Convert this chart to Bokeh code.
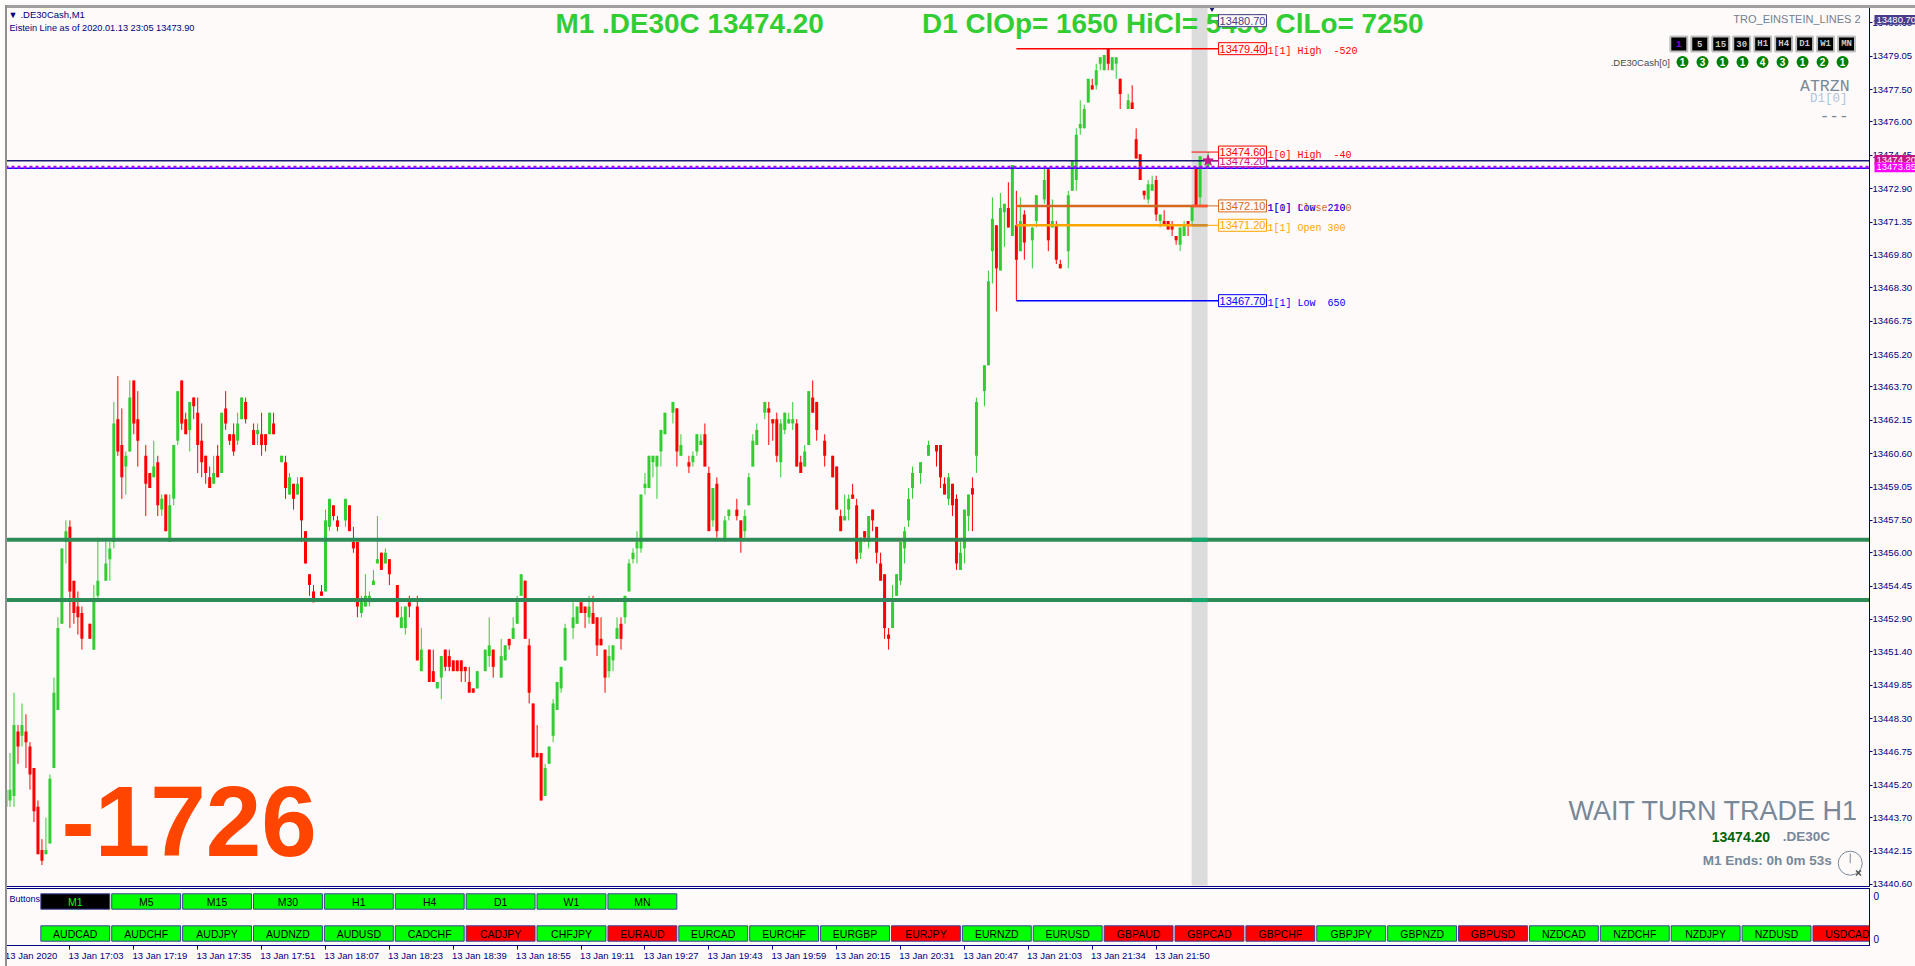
from bokeh.plotting import figure
from bokeh.layouts import column, row
from bokeh.models import Range1d, FixedTicker, NumeralTickFormatter, LinearAxis, Label, Div
from bokeh.core.properties import value
from bokeh.embed import file_html
from bokeh.resources import INLINE
import numpy as np

na = float("nan")
price_base = 13400.0  # every OHLC list below is an offset from this price

highs = [45.7,46.7,49.5,48.0,49.0,48.5,47.2,46.0,44.5,42.7,
43.7,45.7,50.2,53.0,56.2,57.5,57.5,54.7,54.2,53.5,
na,52.7,54.5,56.7,na,56.5,56.5,63.0,64.2,62.7,
60.7,64.0,64.0,63.5,na,61.0,59.7,61.2,60.5,58.7,
58.7,58.7,61.0,63.5,64.0,62.5,63.0,63.2,63.2,62.0,
60.5,60.0,60.5,61.0,62.5,63.5,61.5,62.0,62.5,63.2,
63.2,na,62.0,62.0,62.5,61.5,62.5,62.5,na,60.5,
60.5,59.7,59.2,59.5,59.5,57.0,55.0,54.5,na,54.5,
58.0,58.5,58.2,57.7,na,58.5,58.2,57.2,56.5,54.0,
55.0,54.2,55.2,57.7,56.0,56.2,55.7,na,54.5,53.5,
53.5,54.0,na,54.0,52.5,na,51.5,51.5,50.0,51.2,
51.5,51.5,51.0,51.0,51.0,50.7,50.7,49.7,50.5,na,
51.5,53.0,51.5,na,52.0,51.7,52.0,53.0,54.0,55.0,
54.7,52.0,49.0,48.0,46.7,46.2,47.0,49.2,50.0,50.7,
52.7,na,53.7,53.5,53.7,53.5,54.0,54.0,53.0,53.0,
51.5,51.7,51.7,53.0,53.0,54.0,55.7,56.2,57.0,58.7,
59.7,60.5,60.5,60.5,61.7,62.5,na,63.0,62.7,61.5,
na,60.5,60.7,61.5,61.5,62.0,60.0,59.0,59.5,na,
57.7,58.0,na,58.5,57.5,58.0,59.7,61.5,62.0,na,
63.0,63.0,62.2,62.5,62.2,62.5,62.5,63.0,62.2,60.5,
61.0,63.5,64.0,63.0,na,61.5,na,60.5,60.0,58.0,
58.7,58.7,59.2,58.5,56.7,57.0,57.7,58.0,57.2,56.0,
55.0,52.5,54.5,55.0,56.5,57.2,59.0,60.0,na,60.2,
na,61.2,na,61.0,61.0,59.5,59.7,59.2,58.7,56.5,
58.0,58.7,59.5,63.2,na,64.7,69.1,72.5,71.2,72.7,
72.2,73.2,74.0,72.8,72.5,71.9,na,71.1,72.6,na,
73.9,73.8,72.4,71.4,69.6,na,72.8,74.2,75.7,77.0,
76.8,78.0,78.0,78.7,79.0,79.1,79.4,79.0,79.0,78.0,
na,77.3,77.7,75.7,74.5,72.8,73.3,73.5,73.5,71.7,
71.9,71.4,71.4,70.7,71.1,71.4,71.4,72.1,73.9,74.4,na,74.6]

lows = [43.5,44.2,44.2,46.2,47.0,46.0,45.0,43.5,42.0,41.5,
42.0,42.5,46.0,48.7,52.7,55.5,52.5,52.7,52.2,51.5,
na,52.0,51.5,53.7,na,54.7,54.7,56.2,60.5,58.5,
58.7,60.7,61.5,60.0,na,57.7,59.0,59.5,57.7,57.7,
57.0,56.5,58.2,61.0,61.7,61.5,60.7,62.2,59.7,59.5,
59.2,59.0,59.2,59.5,59.7,61.7,61.0,60.5,61.0,62.2,
62.0,na,61.0,61.0,60.5,60.7,61.5,61.5,na,60.2,
58.5,58.7,58.0,58.7,56.5,55.5,54.0,53.7,na,54.0,
54.2,57.0,57.5,57.0,na,57.2,57.0,56.0,53.0,53.0,
53.5,53.5,54.5,55.5,55.2,55.5,54.5,na,53.0,52.5,
52.2,53.0,na,51.0,50.5,na,50.0,50.0,49.7,49.2,
50.5,50.5,50.5,50.5,50.0,50.0,49.5,49.5,49.7,na,
50.5,50.7,50.2,na,50.2,51.0,51.5,52.0,52.7,54.0,
52.0,49.0,46.5,46.5,44.5,44.7,46.2,47.2,48.7,49.5,
51.0,na,52.0,52.7,53.2,52.5,52.7,52.7,51.2,51.7,
49.5,50.2,50.5,52.0,51.5,52.7,54.2,55.5,55.5,56.0,
58.7,59.0,59.5,58.5,60.0,61.5,na,62.0,60.0,60.5,
na,59.7,60.0,60.5,61.0,60.0,57.0,57.2,56.7,na,
56.5,57.5,na,57.5,56.0,56.7,58.2,60.0,61.0,na,
62.2,61.0,61.2,60.2,59.5,61.5,62.0,61.7,60.0,59.7,
60.0,61.0,62.5,61.2,na,60.0,na,59.5,58.0,57.0,
57.5,57.5,58.5,55.5,55.7,56.5,56.2,57.0,55.5,54.7,
52.0,51.5,52.5,54.0,54.5,55.5,57.2,58.5,na,59.2,
na,60.5,na,60.0,59.0,58.7,58.2,57.7,55.2,55.2,
55.5,57.0,57.0,59.7,na,62.8,64.7,68.5,67.2,69.1,
70.2,71.1,70.7,67.7,70.0,69.6,na,69.2,71.1,na,
72.2,70.0,71.1,69.4,69.2,na,69.2,72.8,72.8,75.4,
75.7,76.9,77.5,77.5,78.4,78.4,78.4,78.4,78.0,76.6,
na,76.6,76.6,74.3,73.3,72.4,72.2,72.8,71.4,71.1,
71.2,71.0,70.7,70.3,70.0,70.7,70.7,71.2,72.1,72.1,na,73.9]

opens = [44.2,44.5,44.7,47.7,47.5,47.7,47.0,46.0,44.2,42.2,
42.0,42.5,46.0,48.7,52.7,56.5,57.2,54.7,53.5,53.2,
na,52.7,51.5,54.0,na,54.7,55.7,56.5,62.2,61.0,
60.0,60.7,64.0,62.2,na,60.5,59.7,59.5,60.2,58.0,
58.7,56.5,58.5,61.2,64.0,62.2,61.7,63.2,62.5,61.2,
60.5,59.5,59.2,60.5,59.7,62.7,61.5,61.5,61.2,62.2,
63.0,na,61.7,61.5,61.5,61.5,61.5,62.0,na,60.2,
60.2,58.7,59.2,58.7,59.5,57.0,55.0,54.2,na,54.2,
54.2,57.2,58.2,57.5,na,57.5,58.2,56.5,56.5,53.2,
53.5,53.7,54.5,55.5,56.0,55.5,55.7,na,54.5,52.5,
52.5,53.7,na,53.5,50.5,na,51.5,50.5,49.7,50.2,
51.5,51.2,51.0,51.0,51.0,50.7,50.0,49.7,49.7,na,
50.5,51.2,51.5,na,50.2,51.0,52.0,52.0,52.7,54.0,
54.7,51.7,49.0,46.7,46.7,44.7,46.2,47.5,48.7,49.7,
51.0,na,52.5,52.7,53.7,53.5,53.0,53.2,53.0,52.0,
51.5,50.5,51.0,52.0,52.7,53.0,54.2,55.7,56.2,56.2,
59.0,59.0,60.2,60.0,60.7,61.5,na,62.5,62.7,60.5,
na,60.2,60.2,60.7,61.0,61.5,59.7,57.5,59.2,na,
56.6,57.7,na,58.0,57.5,57.0,58.2,60.0,61.0,na,
62.5,62.7,62.2,62.2,60.2,61.7,62.0,62.0,62.0,60.2,
60.0,61.0,63.2,63.0,na,61.2,na,60.5,60.0,57.7,
57.5,58.0,58.7,58.2,56.0,57.0,56.5,58.0,57.2,55.5,
55.0,52.2,52.5,54.0,54.7,56.2,57.5,59.0,na,59.7,
na,60.5,na,61.0,61.0,59.2,58.5,59.2,58.5,55.2,
56.2,57.7,59.0,60.5,na,63.5,64.7,70.0,71.2,69.1,
71.8,72.0,70.7,71.2,70.0,71.7,na,70.5,71.4,na,
72.4,73.8,71.1,71.2,69.4,na,70.0,72.8,73.3,75.7,
75.7,76.9,77.7,77.7,78.7,78.4,79.4,78.4,78.7,78.0,
na,76.6,76.9,75.2,74.5,72.8,72.4,72.8,73.3,71.4,
71.4,71.4,71.2,70.7,70.3,70.7,71.4,71.4,73.9,72.5,na,73.9]

closes = [45.0,45.0,48.0,47.0,48.0,47.2,45.7,44.0,42.0,41.7,
42.2,45.5,49.5,52.5,56.2,57.0,54.2,53.2,53.0,52.0,
na,52.0,53.8,54.7,na,55.5,56.2,62.0,60.7,59.5,
60.5,63.2,62.0,61.2,na,59.2,59.0,60.0,58.2,58.5,
57.0,58.2,61.0,63.5,62.0,61.5,63.0,62.8,61.0,60.2,
59.7,59.0,59.7,59.5,62.5,62.0,61.2,60.7,62.0,63.2,
62.2,na,61.0,61.7,61.0,61.0,62.5,61.5,na,60.5,
59.0,59.5,58.5,59.2,57.5,55.5,54.5,53.7,na,54.0,
57.5,58.5,57.7,57.2,na,58.5,57.0,56.2,53.5,53.9,
54.0,54.0,54.7,55.7,55.2,56.0,55.0,na,53.0,53.0,
53.5,53.5,na,51.0,51.5,na,50.0,50.0,50.0,51.2,
50.7,50.7,50.5,50.5,50.5,50.5,49.5,49.5,50.5,na,
51.5,51.7,50.7,na,51.2,51.7,51.7,52.5,53.7,55.0,
52.0,49.5,46.5,46.5,44.5,46.0,47.0,49.0,50.0,50.7,
52.5,na,53.0,53.5,53.2,53.2,53.5,52.7,51.7,51.7,
50.2,51.2,51.7,52.5,52.0,54.0,55.5,56.0,56.5,58.7,
59.2,60.5,60.5,60.5,61.7,62.5,na,63.0,60.7,61.0,
na,60.0,60.5,61.5,61.2,60.0,57.0,59.0,57.0,na,
57.5,58.0,na,57.7,56.6,57.7,59.5,61.2,61.7,na,
63.0,62.5,62.0,60.5,62.0,62.5,62.2,62.2,60.0,59.7,
60.7,63.5,62.5,61.7,na,60.5,na,59.5,58.0,57.0,
57.7,58.5,58.5,55.7,56.7,56.7,57.7,57.5,56.0,54.7,
52.5,52.0,53.7,55.0,56.5,57.0,58.5,59.7,na,60.2,
na,61.0,na,60.7,59.5,58.7,59.5,58.2,55.5,56.0,
58.0,58.7,58.7,63.0,na,64.7,68.6,71.5,69.2,72.0,
72.2,71.1,74.0,69.6,71.4,70.4,na,71.1,72.6,na,
73.3,70.5,71.4,69.6,69.2,na,72.6,74.2,75.4,75.9,
76.6,78.0,77.5,78.4,79.0,79.1,78.7,79.0,79.0,77.3,
na,77.0,76.6,74.3,73.3,72.6,73.1,73.1,71.7,71.7,
71.2,71.0,71.0,70.5,71.1,71.2,71.2,72.1,72.1,74.4,na,74.2]

y_ticks = [13480.60,13479.05,13477.50,13476.00,13474.45,13472.90,13471.35,13469.80,13468.30,
           13466.75,13465.20,13463.70,13462.15,13460.60,13459.05,13457.50,13456.00,13454.45,
           13452.90,13451.40,13449.85,13448.30,13446.75,13445.20,13443.70,13442.15,13440.60]
x_tick_bars = [0,16,32,48,64,80,96,112,128,144,160,176,192,208,224,240,256,272,288]
x_tick_labels = ["13 Jan 2020","13 Jan 17:03","13 Jan 17:19","13 Jan 17:35","13 Jan 17:51","13 Jan 18:07",
                 "13 Jan 18:23","13 Jan 18:39","13 Jan 18:55","13 Jan 19:11","13 Jan 19:27","13 Jan 19:43",
                 "13 Jan 19:59","13 Jan 20:15","13 Jan 20:31","13 Jan 20:47","13 Jan 21:03","13 Jan 21:34","13 Jan 21:50"]

support_levels = [13456.6, 13453.8]
bid_price = 13474.2
einstein_price = 13473.9
ask_price = 13473.85
period_high, period_low = 13479.4, 13467.7
today_high, today_low = 13474.6, 13472.1
prev_open = 13471.2
top_level = 13480.7
level_rows = [(13480.7,"13480.70","#483D8B"),(13474.2,"13474.20","#C71585"),(13479.4,"13479.40","#FF0000"),
              (13474.6,"13474.60","#FF0000"),(13472.1,"13472.10","#D2691E"),(13471.2,"13471.20","#FFA500"),
              (13467.7,"13467.70","#0000FF")]
NB = "\u00A0"
level_notes = [(13479.4,f"1[1] High{NB}{NB}-520","#FF0000"),(13474.6,f"1[0] High{NB}{NB}-40","#FF0000"),
               (13472.1,"1[1] Close 200","#D2691E"),(13472.1,f"1[0] Low{NB}{NB}210","#0000FF"),
               (13471.2,"1[1] Open 300","#FFA500"),(13467.7,f"1[1] Low{NB}{NB}650","#0000FF")]
flag_rows = [(top_level,"13480.70","#483D8B"),(bid_price,"13474.20","#C71585"),(ask_price,"13473.85","#FF00FF")]
tf_labels = ["1","5","15","30","H1","H4","D1","W1","MN"]
tf_counts = ["1","3","1","1","4","3","1","2","1"]
row1_names = ["M1","M5","M15","M30","H1","H4","D1","W1","MN"]
row2_names = ["AUDCAD","AUDCHF","AUDJPY","AUDNZD","AUDUSD","CADCHF","CADJPY","CHFJPY","EURAUD","EURCAD",
              "EURCHF","EURGBP","EURJPY","EURNZD","EURUSD","GBPAUD","GBPCAD","GBPCHF","GBPJPY","GBPNZD",
              "GBPUSD","NZDCAD","NZDCHF","NZDJPY","NZDUSD","USDCAD"]
row2_down = {"CADJPY","EURAUD","EURJPY","GBPAUD","GBPCAD","GBPCHF","GBPUSD","USDCAD"}

NAVY = "#000080"; SNOW = "#FFFAFA"; UP = "#32CD32"; DOWN = "#FF0000"; SLATE = "#778899"
ARIAL = "Liberation Sans"; MONO = "Liberation Mono"

def bx(px): return (px - 5.5) / 4.0
def py(y): return 13479.05 - (y - 55.7) / 21.54

x_lo, x_hi = bx(5), bx(1872)
p = figure(width=1915, height=887, output_backend="svg", toolbar_location=None,
           x_range=Range1d(x_lo, x_hi), y_range=Range1d(py(886), py(5)),
           x_axis_location=None, y_axis_location="right",
           min_border_left=5, min_border_right=43, min_border_top=5, min_border_bottom=1,
           background_fill_color=SNOW, border_fill_color=SNOW, outline_line_color=NAVY)
p.grid.visible = False
ax = p.yaxis[0]
ax.ticker = FixedTicker(ticks=y_ticks)
ax.formatter = NumeralTickFormatter(format="0.00")
ax.major_tick_in = 0; ax.major_tick_out = 3; ax.minor_tick_line_color = None
ax.major_label_standoff = 0
ax.axis_line_color = NAVY; ax.major_tick_line_color = NAVY
ax.major_label_text_color = NAVY; ax.major_label_text_font = ARIAL; ax.major_label_text_font_size = "9.5px"

# session band
band_l, band_r = bx(1193), bx(1209)
p.quad(left=[band_l], right=[band_r], top=[py(6.5)], bottom=[py(885)], fill_color="#DCDCDC", line_color=None)

# candles
idx = np.arange(len(opens))
o, h, l, c = [price_base + np.array(a) for a in (opens, highs, lows, closes)]
valid = ~np.isnan(o)
for mask, col in ((valid & (c >= o), UP), (valid & (c < o), DOWN)):
    p.segment(x0=idx[mask], x1=idx[mask], y0=h[mask], y1=l[mask], line_color=col, line_width=1)
    p.vbar(x=idx[mask], width=0.75, top=np.maximum(o, c)[mask], bottom=np.minimum(o, c)[mask], fill_color=col, line_color=None)

# horizontal lines
for lv in support_levels:
    p.segment(x0=[x_lo], x1=[x_hi], y0=[lv], y1=[lv], line_color="#2E8B57", line_width=4)
    p.segment(x0=[band_l], x1=[band_r], y0=[lv], y1=[lv], line_color="#12A870", line_width=4)
p.segment(x0=[x_lo], x1=[x_hi], y0=[bid_price], y1=[bid_price], line_color="#191970", line_width=1.5)
p.segment(x0=[x_lo], x1=[x_hi], y0=[ask_price], y1=[ask_price], line_color="#0000FF", line_width=1.5)
p.segment(x0=[x_lo], x1=[x_hi], y0=[einstein_price], y1=[einstein_price], line_color="#B000FF", line_width=3, line_dash="3 3")

lvl_x0, lvl_cur, box_l, box_r = 253, 301, bx(1220), bx(1268)
p.segment(x0=[lvl_x0]*2, x1=[box_l]*2, y0=[period_high, period_low], y1=[period_high, period_low],
          line_color=[DOWN, "#0000FF"], line_width=1.5)
p.segment(x0=[lvl_x0]*2, x1=[band_r]*2, y0=[today_low, prev_open], y1=[today_low, prev_open],
          line_color=["#D2691E", "#FFA500"], line_width=2.5)
p.segment(x0=[band_l]*2, x1=[band_r]*2, y0=[today_low, prev_open], y1=[today_low, prev_open],
          line_color=["#FF5030", "#D08A30"], line_width=2.5)
p.segment(x0=[band_r]*2, x1=[box_l]*2, y0=[today_low, prev_open], y1=[today_low, prev_open],
          line_color=["#D2691E", "#FFA500"], line_width=1)
p.segment(x0=[band_l], x1=[box_l], y0=[today_high], y1=[today_high], line_color=DOWN, line_width=1)
p.segment(x0=[band_r]*2, x1=[box_l]*2, y0=[bid_price, top_level], y1=[bid_price, top_level],
          line_color=["#C71585", "#483D8B"], line_width=1)
p.scatter(x=[lvl_cur], y=[bid_price], marker="star", size=11, fill_color="#C71585", line_color="#C71585")
p.scatter(x=[bx(1213.5)], y=[py(7)], marker="inverted_triangle", size=8, fill_color="#191970", line_color=None)

def note(px, y, txt, col, size, font=ARIAL, align="left", style="normal"):
    p.text(x=[bx(px)], y=[py(y)], text=[txt], text_color=col, text_font=value(font),
           text_font_size=f"{size}px", text_align=align, text_baseline="middle", text_font_style=style)

# headline texts
note(556, 23, "M1 .DE30C 13474.20", UP, 27.9, style="bold")
note(923, 23, "D1 ClOp= 1650 HiCl= 5450 ClLo= 7250", UP, 27.9, style="bold")
note(8, 14, "\u25BC", NAVY, 9)
note(20, 14, ".DE30Cash,M1", NAVY, 9.5)
note(9, 27, "Eistein Line as of 2020.01.13 23:05 13473.90", NAVY, 9.2)
note(61, 820, "-1726", "#FF4500", 99.9, style="bold")
note(1861, 810, "WAIT TURN TRADE H1", SLATE, 27, align="right")
note(1714, 836, "13474.20", "#006400", 14, style="bold")
note(1785, 836, ".DE30C", SLATE, 13.5, style="bold")
note(1705, 860, "M1 Ends: 0h 0m 53s", SLATE, 13.5, style="bold")
note(1863, 18, "TRO_EINSTEIN_LINES 2", "#708090", 11, align="right")
note(1852, 86, "ATRZN", SLATE, 16.5, MONO, align="right")
note(1850, 98.5, "D1[0]", "#B0C4DE", 12.5, MONO, align="right")
note(1851, 115, "---", SLATE, 16, MONO, align="right")
note(1672, 62, ".DE30Cash[0]", "#4A4A4A", 9.5, align="right")

# clock
p.scatter(x=[bx(1852.7)], y=[py(862.7)], marker="circle", size=24, fill_color=None, line_color=SLATE, line_width=1)
p.segment(x0=[bx(1852.7)], x1=[bx(1852.7)], y0=[py(862.7)], y1=[py(853)], line_color=SLATE, line_width=1)
p.scatter(x=[bx(1861)], y=[py(872.5)], marker="x", size=7, line_color="#555555", line_width=1.5)

# timeframe tiles and counters
for j, (lab, cnt) in enumerate(zip(tf_labels, tf_counts)):
    cx = 1681 + 21 * j
    p.quad(left=[bx(cx - 8.5)], right=[bx(cx + 8.5)], top=[py(36)], bottom=[py(51)],
           fill_color="#000000", line_color="#C0C0C0", line_width=2)
    note(cx, 43.5, lab, "#9400D3" if j == 0 else "#C8C8C8", 9, MONO, align="center", style="bold")
    dx = 1684.7 + 20.04 * j
    p.scatter(x=[bx(dx)], y=[py(61.5)], marker="circle", size=12, fill_color="#008000", line_color=None)
    note(dx, 61.5, cnt, "#FFFFFF", 10, ARIAL, align="center", style="bold")

# level boxes
half = 6 / 21.54
for lv, txt, col in level_rows:
    p.quad(left=[box_l], right=[box_r], top=[lv + half], bottom=[lv - half], fill_color=SNOW, line_color=col, line_width=1)
    p.text(x=[(box_l + box_r) / 2], y=[lv], text=[txt], text_color=col, text_font=value(ARIAL), text_font_size="11px",
           text_align="center", text_baseline="middle")
for lv, txt, col in level_notes:
    p.text(x=[bx(1269)], y=[lv - 3 / 21.54], text=[txt], text_color=col, text_font=value(MONO), text_font_size="10px",
           text_align="left", text_baseline="middle")

# price flags laid over the right axis: a small transparent figure sharing the price scale
flags = figure(width=43, height=887, output_backend="svg", toolbar_location=None,
               x_range=Range1d(0, 43), y_range=p.y_range, x_axis_location=None, y_axis_location=None,
               min_border_left=0, min_border_right=0, min_border_top=5, min_border_bottom=1,
               background_fill_color=None, border_fill_color=None, outline_line_color=None)
flags.grid.visible = False
for lv, txt, col in flag_rows:
    flags.quad(left=[2], right=[43], top=[lv + 4.8 / 21.54 + 0.04], bottom=[lv - 4.8 / 21.54 + 0.04], fill_color=col, line_color=None)
    flags.text(x=[4], y=[lv + 0.04], text=[txt], text_color="#FFFFFF", text_font=value(ARIAL), text_font_size="9.5px",
               text_align="left", text_baseline="middle")
flag_box = row(flags, spacing=0, styles={"position": "absolute", "left": "1872px", "top": "0px"})

# ---- lower pane with the buttons ----
slot_px = 71.0; first_px = 40.4; row_px = 32.0
s = figure(width=1915, height=79, output_backend="svg", toolbar_location=None,
           x_range=Range1d(x_lo, x_hi), y_range=Range1d(-(945 - 933) / row_px, (933 - 888) / row_px),
           y_axis_location="right", min_border_left=5, min_border_right=43, min_border_top=1, min_border_bottom=21,
           background_fill_color=SNOW, border_fill_color=SNOW, outline_line_color=NAVY)
s.extra_x_ranges["slots"] = Range1d((5 - first_px) / slot_px, (1872 - first_px) / slot_px)
s.grid.visible = False

ya = s.yaxis[0]
ya.ticker = FixedTicker(ticks=[1.17, -0.18])
ya.major_label_overrides = {1.17: "0", -0.18: "0"}
ya.major_tick_line_color = None; ya.minor_tick_line_color = None; ya.major_tick_out = 0; ya.major_tick_in = 0
ya.major_label_standoff = 4; ya.axis_line_color = NAVY
ya.major_label_text_color = NAVY; ya.major_label_text_font = ARIAL; ya.major_label_text_font_size = "10px"

xa = s.xaxis[0]
xa.ticker = FixedTicker(ticks=x_tick_bars)
xa.major_label_overrides = {t: "" for t in x_tick_bars}
xa.major_tick_in = 0; xa.major_tick_out = 4; xa.minor_tick_line_color = None
xa.major_label_standoff = 0
xa.axis_line_color = NAVY; xa.major_tick_line_color = NAVY

# a second bottom axis holds the date texts, centred so that each starts at its tick
label_bars = [round(b + (6.3 if i == 0 else 6.55), 2) for i, b in enumerate(x_tick_bars)]
xl = LinearAxis(ticker=FixedTicker(ticks=label_bars),
                major_label_overrides=dict(zip(label_bars, x_tick_labels)),
                major_tick_in=0, major_tick_out=0, major_tick_line_color=None, minor_tick_line_color=None,
                axis_line_color=None, major_label_standoff=0, major_label_text_color=NAVY,
                major_label_text_font=ARIAL, major_label_text_font_size="9.5px")
s.add_layout(xl, "below")

def buttons(names, row_y, fills, colors):
    xs = np.arange(len(names))
    s.quad(left=xs, right=xs + 69.0 / slot_px, top=row_y + 7.7 / row_px, bottom=row_y - 7.7 / row_px, x_range_name="slots",
           fill_color=fills, line_color="#40409A", line_width=1)
    s.text(x=xs + 34.5 / slot_px, y=[row_y] * len(names), text=names, x_range_name="slots", text_color=colors,
           text_font=value(ARIAL), text_font_size="10.5px", text_align="center", text_baseline="middle")

buttons(row1_names, 1, ["#000000"] + ["#00FF00"] * 8, ["#00FF00"] + ["#000000"] * 8)
buttons(row2_names, 0, ["#FF0000" if n in row2_down else "#00FF00" for n in row2_names], ["#000000"] * len(row2_names))

s.add_layout(Label(x=4, y=47, x_units="screen", y_units="screen", text="Buttons", text_color=NAVY, text_font=ARIAL,
                   text_font_size="9px", text_baseline="middle"))

# outer window edge
edge_top = Div(text="", width=1915, height=3, styles={"position": "absolute", "left": "0px", "top": "0px", "background": "#A0A0A0"})
edge_left = Div(text="", width=2, height=966, styles={"position": "absolute", "left": "0px", "top": "0px", "background": "#909090"})

page = column(p, s, flag_box, edge_top, edge_left, spacing=0,
              styles={"position": "absolute", "left": "0px", "top": "0px"})
open("out.html", "w").write(file_html(page, INLINE))
